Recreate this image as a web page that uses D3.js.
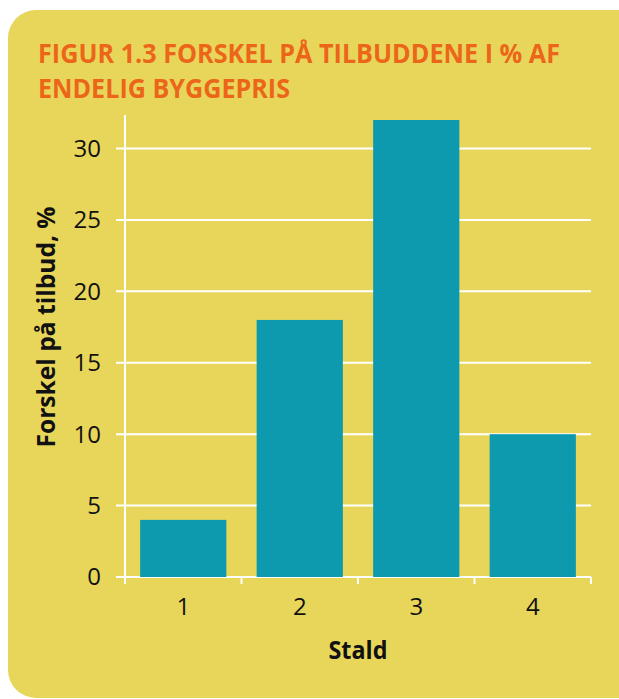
<!DOCTYPE html>
<html>
<head>
<meta charset="utf-8">
<script src="https://cdn.jsdelivr.net/npm/d3@7"></script>
<style>
  body { margin: 0; background: #fff; }
  svg { display: block; }
  text { font-family: "Open Sans", sans-serif; }
</style>
</head>
<body>
<div id="chart"></div>
<script>
// Data
var stalde = ["1", "2", "3", "4"];
var forskel = [4, 18, 32, 10];
var yTicks = [0, 5, 10, 15, 20, 25, 30];
var titleLines = ["FIGUR 1.3 FORSKEL PÅ TILBUDDENE I % AF", "ENDELIG BYGGEPRIS"];

var width = 619, height = 699;

var svg = d3.select("#chart").append("svg")
    .attr("width", width)
    .attr("height", height);

// yellow panel
svg.append("rect")
    .attr("x", 8)
    .attr("y", 10)
    .attr("width", 640)
    .attr("height", 688)
    .attr("rx", 28)
    .attr("fill", "#e8d65b");

// title
svg.append("g").selectAll("text")
    .data(titleLines)
  .enter().append("text")
    .attr("x", 38)
    .attr("y", function(d, i) { return 63 + i * 35; })
    .attr("textLength", function(d, i) { return i === 0 ? 522 : 252; })
    .attr("lengthAdjust", "spacingAndGlyphs")
    .style("font-size", "27px")
    .style("font-weight", "bold")
    .style("fill", "#ec6619")
    .text(function(d) { return d; });

var x = d3.scaleBand()
    .domain(stalde)
    .range([125, 591])
    .paddingInner(0.26)
    .paddingOuter(0.13);

var y = d3.scaleLinear()
    .domain([0, 32.35])
    .range([577, 115]);

// gridlines
svg.append("g").selectAll("line")
    .data(yTicks)
  .enter().append("line")
    .attr("x1", 116)
    .attr("x2", 591)
    .attr("y1", function(d) { return y(d); })
    .attr("y2", function(d) { return y(d); })
    .style("stroke", "#fff")
    .style("stroke-width", 2);

// y axis line
svg.append("line")
    .attr("x1", 125).attr("x2", 125)
    .attr("y1", y.range()[1]).attr("y2", 584)
    .style("stroke", "#fff")
    .style("stroke-width", 2);

// x ticks at band edges
var edges = stalde.map(function(d) { return x(d) - x.step() * x.paddingInner() / 2; });
edges.push(591);
svg.append("g").selectAll("line")
    .data(edges)
  .enter().append("line")
    .attr("x1", function(d) { return d; })
    .attr("x2", function(d) { return d; })
    .attr("y1", 577)
    .attr("y2", 584)
    .style("stroke", "#fff")
    .style("stroke-width", 2);

// bars
svg.append("g").selectAll("rect")
    .data(forskel)
  .enter().append("rect")
    .attr("x", function(d, i) { return x(stalde[i]); })
    .attr("width", x.bandwidth())
    .attr("y", function(d) { return y(d); })
    .attr("height", function(d) { return y(0) - y(d); })
    .style("fill", "#0d99ae");

// y tick labels
svg.append("g").selectAll("text")
    .data(yTicks)
  .enter().append("text")
    .attr("x", 101)
    .attr("y", function(d) { return y(d); })
    .attr("dy", "0.35em")
    .attr("text-anchor", "end")
    .style("font-size", "24px")
    .style("fill", "#111")
    .text(function(d) { return d; });

// x tick labels
svg.append("g").selectAll("text")
    .data(stalde)
  .enter().append("text")
    .attr("x", function(d) { return x(d) + x.bandwidth() / 2; })
    .attr("y", 615)
    .attr("text-anchor", "middle")
    .style("font-size", "24px")
    .style("fill", "#111")
    .text(function(d) { return d; });

// axis titles
svg.append("text")
    .attr("x", 358)
    .attr("y", 659)
    .attr("text-anchor", "middle")
    .attr("textLength", 59)
    .attr("lengthAdjust", "spacingAndGlyphs")
    .style("font-size", "25px")
    .style("font-weight", "bold")
    .style("fill", "#111")
    .text("Stald");

svg.append("text")
    .attr("transform", "translate(55,327) rotate(-90)")
    .attr("text-anchor", "middle")
    .attr("textLength", 241)
    .attr("lengthAdjust", "spacingAndGlyphs")
    .style("font-size", "25px")
    .style("font-weight", "bold")
    .style("fill", "#111")
    .text("Forskel på tilbud, %");
</script>
</body>
</html>
